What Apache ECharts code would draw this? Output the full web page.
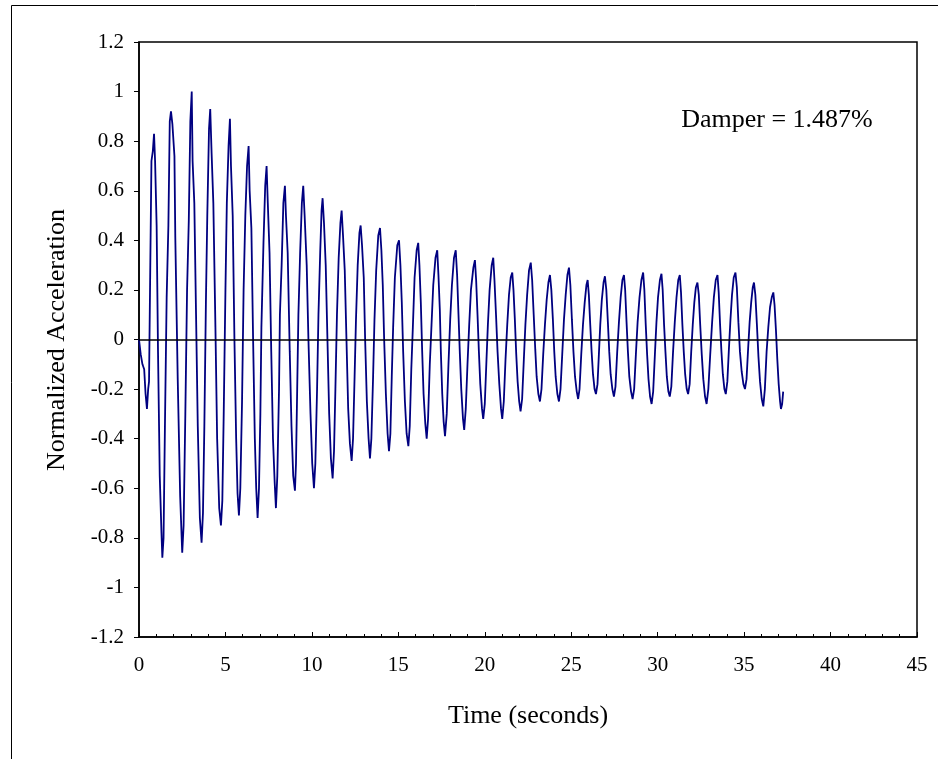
<!DOCTYPE html>
<html>
<head>
<meta charset="utf-8">
<script src="https://cdn.jsdelivr.net/npm/echarts@6/dist/echarts.min.js"></script>
<style>
html,body{margin:0;padding:0;background:#fff;}
#chart{width:938px;height:759px;}
</style>
</head>
<body>
<div id="chart"></div>
<script>
// Time (s) vs normalized acceleration
var seg0to10 = [
[0,0],[0.1,-0.06],[0.2,-0.1],[0.3,-0.12],[0.38,-0.22],[0.46,-0.28],[0.53,-0.2],[0.58,-0.17],[0.65,0.28],[0.72,0.72],[0.8,0.76],[0.87,0.83],
[0.93,0.72],[1.02,0.46],[1.1,-0.05],[1.2,-0.55],[1.3,-0.78],[1.35,-0.88],
[1.42,-0.8],[1.5,-0.35],[1.6,0.17],[1.7,0.46],[1.78,0.88],[1.85,0.92],
[1.93,0.87],[2.05,0.74],[2.1,0.41],[2.24,-0.16],[2.38,-0.63],[2.5,-0.86],
[2.58,-0.75],[2.68,-0.3],[2.78,0.2],[2.88,0.48],[2.97,0.88],[3.05,1.0],
[3.1,0.72],[3.2,0.55],[3.3,0.1],[3.4,-0.35],[3.52,-0.72],[3.62,-0.82],
[3.7,-0.7],[3.78,-0.35],[3.87,0.15],[3.95,0.5],[4.05,0.85],[4.12,0.93],
[4.2,0.75],[4.3,0.55],[4.42,0.05],[4.52,-0.4],[4.64,-0.68],[4.74,-0.75],
[4.82,-0.65],[4.9,-0.3],[5.0,0.2],[5.08,0.55],[5.18,0.78],[5.26,0.89],
[5.32,0.7],[5.42,0.5],[5.52,0.0],[5.62,-0.4],[5.7,-0.62],[5.78,-0.71],
[5.86,-0.6],[5.96,-0.25],[6.05,0.2],[6.15,0.5],[6.25,0.7],[6.34,0.78],
[6.4,0.6],[6.5,0.45],[6.6,0.0],[6.7,-0.4],[6.78,-0.6],[6.86,-0.72],
[6.94,-0.6],[7.02,-0.3],[7.08,0.05],[7.2,0.39],[7.3,0.62],[7.38,0.7],
[7.45,0.55],[7.55,0.35],[7.65,-0.05],[7.75,-0.4],[7.85,-0.58],[7.92,-0.68],
[8.0,-0.55],[8.1,-0.2],[8.15,0.1],[8.25,0.3],[8.35,0.55],[8.44,0.62],
[8.5,0.5],[8.6,0.35],[8.72,-0.05],[8.82,-0.35],[8.92,-0.55],[9.02,-0.61],
[9.08,-0.5],[9.15,-0.2],[9.22,0.1],[9.32,0.35],[9.42,0.55],[9.5,0.62],
[9.58,0.5],[9.7,0.3],[9.8,0.0],[9.92,-0.3],[10.02,-0.5],[10.12,-0.6]
];
var seg10to20 = [
[10.2,-0.5],[10.3,-0.2],[10.38,0.1],[10.48,0.35],[10.56,0.52],[10.62,0.57],
[10.7,0.47],[10.8,0.3],[10.9,0.0],[11.0,-0.3],[11.1,-0.48],[11.2,-0.56],
[11.28,-0.45],[11.36,-0.2],[11.45,0.1],[11.55,0.33],[11.65,0.47],[11.72,0.52],
[11.8,0.42],[11.9,0.28],[12.0,0.0],[12.1,-0.28],[12.2,-0.42],[12.3,-0.49],
[12.38,-0.4],[12.47,-0.15],[12.55,0.08],[12.65,0.3],[12.75,0.43],[12.82,0.46],
[12.9,0.38],[13.0,0.25],[13.08,0.0],[13.18,-0.25],[13.28,-0.4],[13.36,-0.48],
[13.44,-0.4],[13.54,-0.15],[13.62,0.08],[13.72,0.28],[13.84,0.42],[13.94,0.45],
[14.02,0.36],[14.1,0.22],[14.18,0.0],[14.28,-0.22],[14.38,-0.38],[14.46,-0.45],
[14.54,-0.38],[14.62,-0.15],[14.7,0.05],[14.8,0.25],[14.94,0.38],[15.04,0.4],
[15.12,0.3],[15.2,0.15],[15.28,-0.05],[15.38,-0.25],[15.48,-0.38],[15.58,-0.43],
[15.66,-0.35],[15.75,-0.12],[15.84,0.05],[15.94,0.25],[16.06,0.36],[16.15,0.39],
[16.22,0.3],[16.3,0.15],[16.38,-0.05],[16.46,-0.22],[16.56,-0.34],[16.64,-0.4],
[16.72,-0.32],[16.82,-0.1],[16.92,0.06],[17.02,0.22],[17.15,0.33],[17.25,0.36],
[17.32,0.26],[17.4,0.12],[17.46,-0.05],[17.54,-0.22],[17.62,-0.33],[17.7,-0.39],
[17.8,-0.3],[17.9,-0.1],[18.0,0.08],[18.1,0.22],[18.22,0.33],[18.32,0.36],
[18.4,0.26],[18.48,0.1],[18.56,-0.06],[18.64,-0.2],[18.74,-0.32],[18.81,-0.365],
[18.9,-0.28],[19.0,-0.1],[19.1,0.06],[19.2,0.2],[19.34,0.29],[19.43,0.32],
[19.5,0.24],[19.58,0.1],[19.66,-0.05],[19.74,-0.18],[19.84,-0.28],[19.91,-0.32]
];
var seg20to30 = [
[20.0,-0.26],[20.1,-0.08],[20.18,0.06],[20.28,0.2],[20.4,0.3],[20.49,0.33],
[20.56,0.24],[20.65,0.1],[20.74,-0.05],[20.84,-0.18],[20.94,-0.28],[21.01,-0.32],
[21.1,-0.25],[21.2,-0.08],[21.3,0.06],[21.4,0.18],[21.5,0.25],[21.59,0.27],
[21.66,0.2],[21.74,0.08],[21.82,-0.06],[21.9,-0.17],[21.99,-0.25],[22.07,-0.29],
[22.16,-0.24],[22.26,-0.08],[22.35,0.06],[22.45,0.18],[22.56,0.28],[22.66,0.31],
[22.74,0.24],[22.83,0.1],[22.92,-0.04],[23.0,-0.15],[23.1,-0.22],[23.19,-0.25],
[23.28,-0.2],[23.38,-0.06],[23.48,0.06],[23.58,0.16],[23.68,0.23],[23.77,0.26],
[23.85,0.2],[23.94,0.08],[24.02,-0.05],[24.1,-0.15],[24.2,-0.22],[24.29,-0.25],
[24.38,-0.2],[24.48,-0.06],[24.58,0.08],[24.68,0.18],[24.78,0.26],[24.87,0.29],
[24.95,0.22],[25.04,0.08],[25.13,-0.05],[25.22,-0.15],[25.32,-0.21],[25.4,-0.24],
[25.48,-0.2],[25.58,-0.06],[25.68,0.06],[25.78,0.15],[25.88,0.22],[25.95,0.24],
[26.02,0.18],[26.1,0.06],[26.18,-0.05],[26.26,-0.14],[26.35,-0.2],[26.43,-0.22],
[26.52,-0.18],[26.6,-0.06],[26.68,0.06],[26.77,0.16],[26.87,0.23],[26.95,0.255],
[27.03,0.2],[27.12,0.07],[27.2,-0.05],[27.28,-0.14],[27.38,-0.2],[27.47,-0.23],
[27.56,-0.19],[27.66,-0.05],[27.76,0.07],[27.86,0.17],[27.96,0.24],[28.05,0.26],
[28.12,0.2],[28.2,0.07],[28.28,-0.05],[28.36,-0.15],[28.46,-0.21],[28.55,-0.24],
[28.64,-0.2],[28.74,-0.06],[28.84,0.07],[28.95,0.17],[29.06,0.24],[29.16,0.27],
[29.23,0.2],[29.31,0.06],[29.39,-0.06],[29.47,-0.16],[29.56,-0.23],[29.65,-0.26]
];
var seg30to37 = [
[29.74,-0.21],[29.84,-0.06],[29.93,0.07],[30.02,0.17],[30.13,0.24],[30.22,0.265],
[30.29,0.2],[30.37,0.06],[30.45,-0.05],[30.53,-0.15],[30.62,-0.21],[30.7,-0.23],
[30.79,-0.19],[30.89,-0.05],[30.99,0.07],[31.09,0.17],[31.19,0.24],[31.28,0.26],
[31.35,0.19],[31.43,0.06],[31.51,-0.05],[31.59,-0.14],[31.68,-0.2],[31.76,-0.22],
[31.85,-0.18],[31.94,-0.05],[32.03,0.06],[32.12,0.15],[32.21,0.21],[32.3,0.23],
[32.38,0.18],[32.46,0.06],[32.55,-0.06],[32.64,-0.16],[32.74,-0.23],[32.83,-0.26],
[32.93,-0.2],[33.04,-0.06],[33.15,0.07],[33.25,0.17],[33.36,0.24],[33.46,0.26],
[33.53,0.19],[33.61,0.06],[33.69,-0.05],[33.77,-0.14],[33.86,-0.2],[33.94,-0.22],
[34.03,-0.17],[34.12,-0.04],[34.21,0.08],[34.3,0.18],[34.4,0.25],[34.5,0.27],
[34.58,0.21],[34.67,0.07],[34.76,-0.05],[34.86,-0.13],[34.96,-0.18],[35.05,-0.2],
[35.14,-0.16],[35.23,-0.04],[35.32,0.07],[35.41,0.15],[35.5,0.21],[35.57,0.23],
[35.65,0.18],[35.74,0.06],[35.83,-0.07],[35.92,-0.17],[36.02,-0.24],[36.11,-0.27],
[36.2,-0.2],[36.3,-0.05],[36.4,0.05],[36.5,0.13],[36.6,0.17],[36.69,0.19],
[36.76,0.14],[36.84,0.04],[36.92,-0.08],[37.0,-0.18],[37.08,-0.25],[37.13,-0.28],
[37.2,-0.26],[37.26,-0.21]
];
var xAxisTitle = 'Time (seconds)';
var yAxisTitle = 'Normalized Acceleration';
var annotation = 'Damper = 1.487%';

var data = seg0to10.concat(seg10to20, seg20to30, seg30to37);
var serif = '"Liberation Serif","Times New Roman",serif';

var chart = echarts.init(document.getElementById('chart'), null, {renderer: 'canvas'});
chart.setOption({
  animation: false,
  backgroundColor: '#fff',
  grid: {left: 139, right: 21, top: 42, bottom: 122, show: true, borderColor: '#000', borderWidth: 1.5, backgroundColor: 'transparent'},
  xAxis: {
    type: 'value', min: 0, max: 45, interval: 5,
    axisLine: {show: true, onZero: false, lineStyle: {color: '#000', width: 1.5}},
    axisTick: {show: true, inside: true, length: 5, lineStyle: {color: '#000', width: 1}},
    minorTick: {show: true, splitNumber: 5, length: 3, lineStyle: {color: '#000', width: 1}},
    axisLabel: {color: '#000', fontFamily: serif, fontSize: 21, margin: 18},
    splitLine: {show: false}
  },
  yAxis: {
    type: 'value', min: -1.2, max: 1.2, interval: 0.2,
    axisLine: {show: true, onZero: false, lineStyle: {color: '#000', width: 1.5}},
    axisTick: {show: true, inside: false, length: 5, lineStyle: {color: '#000', width: 1}},
    axisLabel: {color: '#000', fontFamily: serif, fontSize: 21, margin: 15,
      formatter: function (v) { return String(+v.toFixed(1)); }},
    splitLine: {show: false}
  },
  graphic: [
    {type: 'rect', x: 11.5, y: 5.5, shape: {x: 0, y: 0, width: 1000, height: 1000}, style: {fill: 'none', stroke: '#000', lineWidth: 1}, silent: true, z: -1},
    {type: 'text', x: 528, y: 716, style: {text: xAxisTitle, font: '26px ' + serif, fill: '#000', textAlign: 'center', textVerticalAlign: 'middle'}},
    {type: 'text', x: 57, y: 340, rotation: Math.PI / 2, style: {text: yAxisTitle, font: '26px ' + serif, fill: '#000', textAlign: 'center', textVerticalAlign: 'middle'}},
    {type: 'text', x: 777, y: 120, style: {text: annotation, font: '26px ' + serif, fill: '#000', textAlign: 'center', textVerticalAlign: 'middle'}}
  ],
  series: [{
    type: 'line',
    data: data,
    showSymbol: false,
    symbol: 'none',
    lineStyle: {color: '#000080', width: 1.8},
    markLine: {
      silent: true, symbol: 'none', label: {show: false},
      lineStyle: {color: '#000', width: 1.5, type: 'solid'},
      data: [{yAxis: 0}]
    },
    z: 2
  }]
});
</script>
</body>
</html>
